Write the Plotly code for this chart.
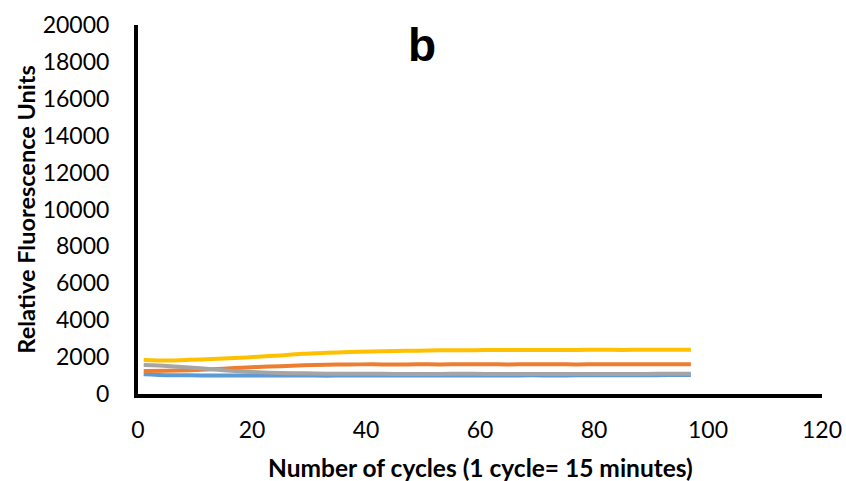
import plotly.graph_objects as go

cycles = [1, 5, 9, 13, 17, 21, 25, 29, 33, 37, 41, 45, 49, 53, 57, 61, 65, 69, 73, 77, 81, 85, 89, 93, 97]

blue = [1070, 1020, 1010, 1005, 1000, 1000, 1005, 1000, 995, 1000, 1000, 1005, 1000, 1000, 1005, 1000, 1005, 1010, 1005, 1010, 1015, 1010, 1020, 1025, 1030]
orange = [1250, 1265, 1290, 1340, 1410, 1470, 1510, 1560, 1590, 1600, 1610, 1600, 1610, 1605, 1610, 1610, 1605, 1610, 1610, 1605, 1610, 1615, 1610, 1610, 1610]
gray = [1570, 1520, 1440, 1340, 1240, 1180, 1140, 1120, 1100, 1100, 1095, 1090, 1090, 1090, 1095, 1090, 1090, 1090, 1085, 1090, 1090, 1090, 1090, 1095, 1095]
yellow = [1840, 1810, 1850, 1900, 1950, 2020, 2090, 2180, 2230, 2270, 2310, 2330, 2350, 2370, 2370, 2380, 2385, 2385, 2390, 2390, 2395, 2390, 2400, 2395, 2400]

series = [
    ("Series 1", blue, "#5B9BD5"),
    ("Series 2", orange, "#ED7D31"),
    ("Series 3", gray, "#A5A5A5"),
    ("Series 4", yellow, "#FFC000"),
]

y_ticks = list(range(0, 20001, 2000))
y_tick_text = [str(v) for v in y_ticks]
x_ticks = list(range(0, 121, 20))
x_tick_text = [str(v) for v in x_ticks]

panel_label = "b"
x_title = "Number of cycles (1 cycle= 15 minutes)"
y_title = "Relative Fluorescence Units"

fig = go.Figure()
for name, vals, color in series:
    fig.add_trace(go.Scatter(
        x=cycles, y=vals, mode="lines", name=name,
        line=dict(color=color, width=4, shape="spline", smoothing=0.6),
    ))

font_family = "Lato, 'Open Sans', sans-serif"

fig.update_layout(
    width=846, height=481,
    margin=dict(l=138, r=24, t=25, b=87),
    paper_bgcolor="white", plot_bgcolor="white",
    showlegend=False,
    font=dict(family=font_family, size=24, color="black"),
    annotations=[
        dict(text=f"<b>{panel_label}</b>", x=0.415, y=0.946, xref="paper", yref="paper",
             showarrow=False, font=dict(family="Liberation Sans, Arial, sans-serif", size=46, color="black"),
             xanchor="center", yanchor="middle"),
        dict(text=f"<b>{x_title}</b>", x=0.5, y=-0.198, xref="paper", yref="paper",
             showarrow=False, font=dict(family=font_family, size=24.5, color="black"),
             xanchor="center", yanchor="middle"),
        dict(text=f"<b>{y_title}</b>", x=-0.165, y=0.5, xref="paper", yref="paper",
             showarrow=False, textangle=-90, font=dict(family=font_family, size=23.5, color="black"),
             xanchor="center", yanchor="middle"),
    ],
)
fig.update_xaxes(
    range=[0, 120], tickvals=x_ticks, ticktext=x_tick_text, showgrid=False, zeroline=False,
    showline=True, linecolor="black", linewidth=4, ticks="", automargin=False,
    ticklabelstandoff=12,
    tickfont=dict(family=font_family, size=23, color="black"),
)
fig.update_yaxes(
    range=[0, 20000], tickvals=y_ticks, ticktext=y_tick_text, showgrid=False, zeroline=False,
    showline=True, linecolor="black", linewidth=4, automargin=False,
    ticks="outside", ticklen=20, tickcolor="rgba(0,0,0,0)",
    tickfont=dict(family=font_family, size=23, color="black"),
)

fig.write_html("out.html", config={"displayModeBar": False},
               post_script="document.body.style.margin='0';document.body.style.padding='0';")
